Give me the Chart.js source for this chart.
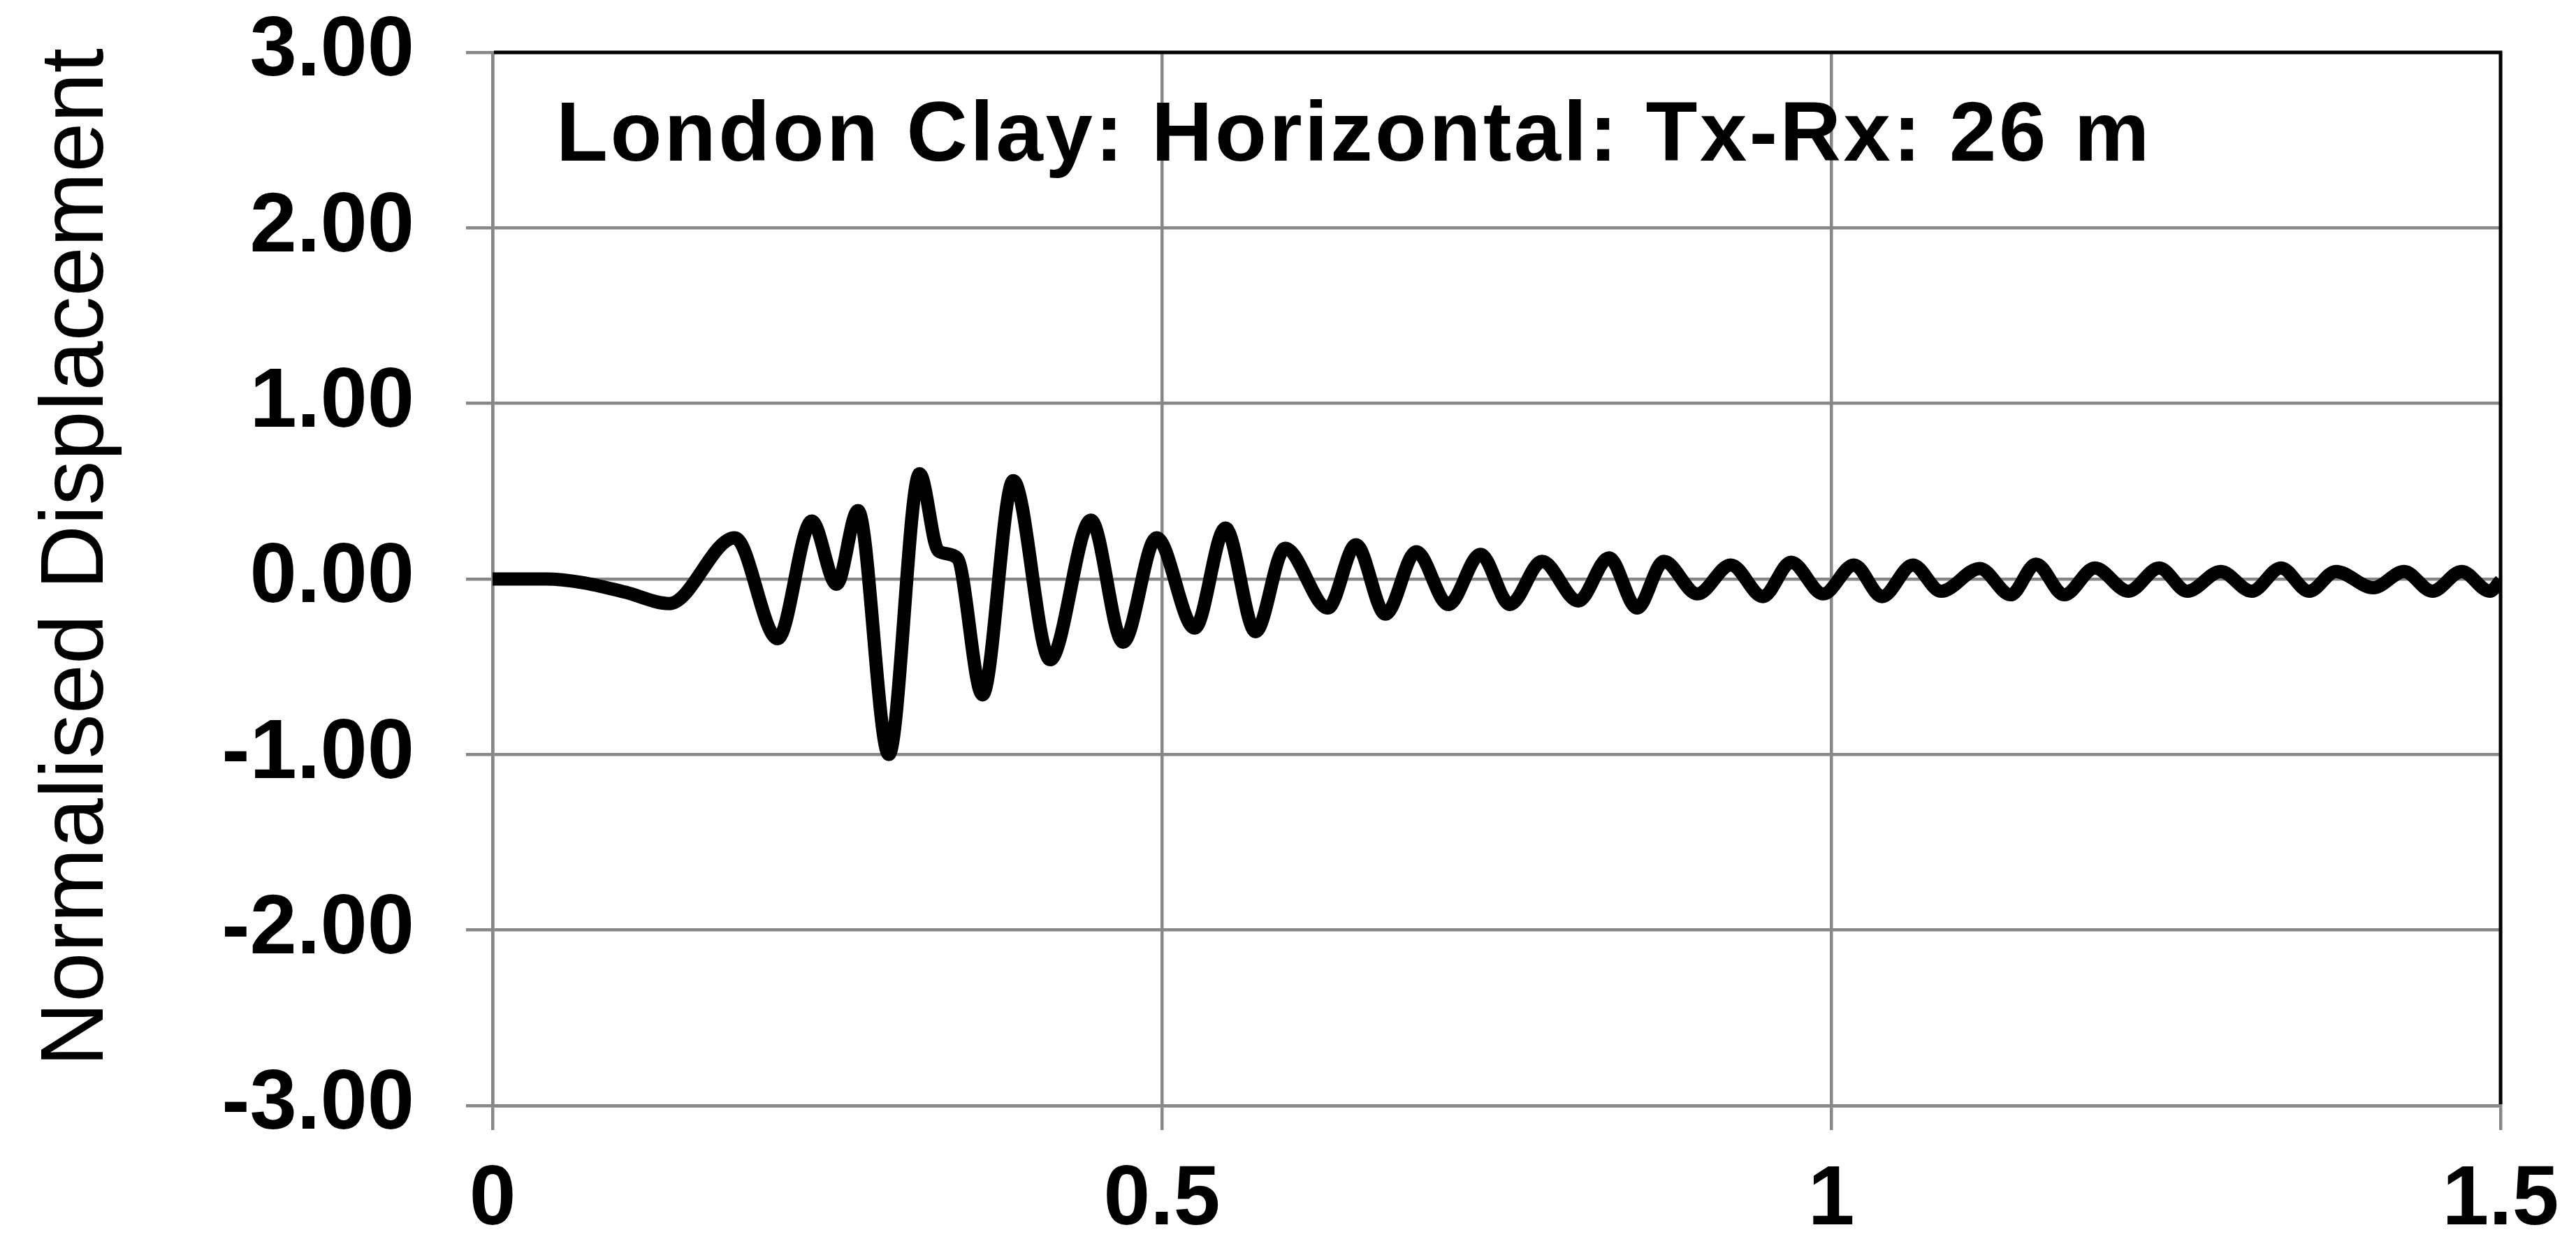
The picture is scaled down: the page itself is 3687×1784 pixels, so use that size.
<!DOCTYPE html>
<html>
<head>
<meta charset="utf-8">
<title>London Clay: Horizontal: Tx-Rx: 26 m</title>
<script src="https://cdn.jsdelivr.net/npm/chart.js@4.4.1/dist/chart.umd.min.js"></script>
<style>
  html, body { margin: 0; padding: 0; background: #fff; }
  #wrap { width: 3687px; height: 1784px; }
</style>
</head>
<body>
<div id="wrap"><canvas id="waveChart" width="3687" height="1784"></canvas></div>
<script>
const chartTitle = 'London Clay: Horizontal: Tx-Rx: 26 m';
const yAxisTitle = 'Normalised Displacement';

// time (x) and normalised displacement (y)
const timeValues = [
    0, 0.04, 0.067, 0.099, 0.132, 0.181, 0.213, 0.2385, 0.257, 0.273,
    0.296, 0.319, 0.333, 0.347, 0.366, 0.389, 0.4165, 0.447, 0.471, 0.496,
    0.5245, 0.5475, 0.570, 0.592, 0.624, 0.645, 0.667, 0.690, 0.714, 0.738,
    0.760, 0.784, 0.811, 0.834, 0.855, 0.875, 0.900, 0.925, 0.949, 0.970,
    0.994, 1.017, 1.038, 1.061, 1.082, 1.111, 1.134, 1.153, 1.174, 1.197,
    1.222, 1.245, 1.266, 1.291, 1.314, 1.336, 1.357, 1.377, 1.405, 1.428,
    1.449, 1.471, 1.492, 1.5,
];
const displacement = [
    0, 0, -0.02, -0.075, -0.14, 0.235, -0.34, 0.33, -0.03, 0.39,
    -1.0, 0.60, 0.16, 0.12, -0.66, 0.56, -0.46, 0.335, -0.36, 0.235,
    -0.28, 0.29, -0.30, 0.175, -0.165, 0.195, -0.20, 0.155, -0.145, 0.14,
    -0.145, 0.10, -0.125, 0.12, -0.165, 0.10, -0.085, 0.08, -0.10, 0.095,
    -0.085, 0.08, -0.10, 0.08, -0.07, 0.06, -0.09, 0.085, -0.09, 0.063,
    -0.07, 0.063, -0.07, 0.043, -0.07, 0.063, -0.07, 0.043, -0.05, 0.043,
    -0.07, 0.043, -0.07, -0.01,
];

const xTickValues = [0, 0.5, 1, 1.5];
const xTickLabels = ['0', '0.5', '1', '1.5'];
const yTickValues = [-3, -2, -1, 0, 1, 2, 3];
const yTickLabels = ['-3.00', '-2.00', '-1.00', '0.00', '1.00', '2.00', '3.00'];

const fontFamily = '"Liberation Sans", Arial, Helvetica, sans-serif';
const gridGray = '#878787';

function lookupLabel(values, labels, v) {
    let best = 0;
    values.forEach((t, i) => {
        if (Math.abs(t - v) < Math.abs(values[best] - v)) best = i;
    });
    return labels[best];
}

// black frame on the top and right edges of the plot area
const plotFrame = {
    id: 'plotFrame',
    beforeDatasetsDraw(chart) {
        const { ctx, chartArea: a } = chart;
        ctx.save();
        ctx.strokeStyle = '#000';
        ctx.lineWidth = 5;
        ctx.beginPath();
        ctx.moveTo(a.left + 2, a.top);
        ctx.lineTo(a.right, a.top);
        ctx.lineTo(a.right, a.bottom - 2);
        ctx.stroke();
        ctx.restore();
    },
};

// caption inside the plot (top left) and the rotated y axis title
const chartTexts = {
    id: 'chartTexts',
    afterDraw(chart) {
        const { ctx, chartArea: a } = chart;
        ctx.save();
        ctx.fillStyle = '#000';
        ctx.font = 'bold 121px ' + fontFamily;
        ctx.letterSpacing = '3.5px';
        ctx.textAlign = 'left';
        ctx.textBaseline = 'alphabetic';
        ctx.fillText(chartTitle, a.left + 91, a.top + 155);
        ctx.restore();

        ctx.save();
        ctx.fillStyle = '#000';
        ctx.font = 'normal 128px ' + fontFamily;
        ctx.textAlign = 'center';
        ctx.textBaseline = 'alphabetic';
        ctx.translate(147, (a.top + a.bottom) / 2 - 31);
        ctx.rotate(-Math.PI / 2);
        ctx.fillText(yAxisTitle, 0, 0);
        ctx.restore();
    },
};

new Chart(document.getElementById('waveChart'), {
    type: 'line',
    data: {
        datasets: [{
            data: timeValues.map((t, i) => ({ x: t, y: displacement[i] })),
            borderColor: '#000',
            borderWidth: 19,
            pointRadius: 0,
            fill: false,
            cubicInterpolationMode: 'monotone',
            borderJoinStyle: 'round',
            borderCapStyle: 'butt',
        }],
    },
    options: {
        responsive: false,
        animation: false,
        devicePixelRatio: 1,
        layout: { padding: { left: 0, right: 108, top: 75, bottom: 0 } },
        plugins: {
            legend: { display: false },
            tooltip: { enabled: false },
        },
        scales: {
            x: {
                type: 'linear',
                min: 0,
                max: 1.5,
                afterFit: (scale) => {
                    scale.height = 201;
                    scale.paddingLeft = 0;
                    scale.paddingRight = 0;
                },
                ticks: {
                    stepSize: 0.5,
                    autoSkip: false,
                    maxRotation: 0,
                    padding: 30,
                    color: '#000',
                    font: { family: fontFamily, size: 120, weight: 'bold' },
                    callback: (v) => lookupLabel(xTickValues, xTickLabels, v),
                },
                grid: { color: gridGray, lineWidth: 4.5, tickLength: 35, tickColor: gridGray },
                border: { color: gridGray, width: 4.5 },
            },
            y: {
                type: 'linear',
                min: -3,
                max: 3,
                afterFit: (scale) => {
                    scale.width = 705;
                    scale.paddingTop = 0;
                    scale.paddingBottom = 0;
                },
                ticks: {
                    stepSize: 1,
                    padding: 74,
                    color: '#000',
                    font: { family: fontFamily, size: 121, weight: 'bold' },
                    callback: (v) => lookupLabel(yTickValues, yTickLabels, v),
                },
                grid: { color: gridGray, lineWidth: 4.5, tickLength: 38, tickColor: gridGray },
                border: { color: gridGray, width: 4.5 },
            },
        },
    },
    plugins: [plotFrame, chartTexts],
});
</script>
</body>
</html>
